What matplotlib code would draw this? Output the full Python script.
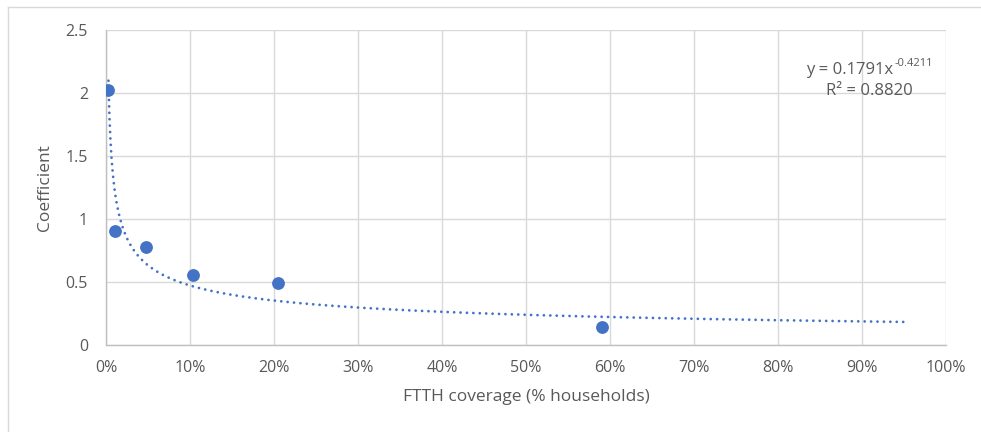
import numpy as np
import matplotlib.pyplot as plt
import matplotlib.transforms as mtransforms
from matplotlib.lines import Line2D
from matplotlib.ticker import PercentFormatter

plt.rcParams['font.family'] = ['Open Sans', 'DejaVu Sans']

# FTTH coverage (share of households) vs estimated coefficient
coverage = [0.0029, 0.011, 0.048, 0.104, 0.205, 0.591]
coefficient = [2.02, 0.905, 0.78, 0.555, 0.49, 0.14]

# power trendline y = a * x^b
trend_a = 0.1791
trend_b = -0.4211
trend_end = 0.95
r_squared = 0.8820

blue = '#4472C4'
grey_text = '#595959'
grid_col = '#D9D9D9'

fig = plt.figure(figsize=(9.81, 4.32), dpi=100)
ax = fig.add_axes([106 / 981, 1 - 345 / 432, 840 / 981, 315 / 432])

xs = np.linspace(min(coverage), trend_end, 800)
ax.plot(xs, trend_a * xs ** trend_b, color=blue, lw=2.0,
        linestyle=(0, (0.01, 2.3)), dash_capstyle='round', zorder=2)
ax.scatter(coverage, coefficient, s=85, color=blue, zorder=3, linewidths=0)

ax.set_xlim(0, 1)
ax.set_ylim(0, 2.5)
ax.set_xticks(np.arange(0, 1.01, 0.1))
ax.set_yticks([0, 0.5, 1, 1.5, 2, 2.5])
ax.set_yticklabels(['0', '0.5', '1', '1.5', '2', '2.5'])
ax.xaxis.set_major_formatter(PercentFormatter(1.0, decimals=0))

ax.grid(True, color=grid_col, lw=1)
ax.set_axisbelow(True)
for side in ['top', 'right']:
    ax.spines[side].set_visible(False)
for side in ['left', 'bottom']:
    ax.spines[side].set_color('#BFBFBF')
    ax.spines[side].set_linewidth(1)
ax.tick_params(length=0, labelsize=11.5, labelcolor=grey_text)
ax.tick_params(axis='x', pad=11)
ax.tick_params(axis='y', pad=13)

ax.set_xlabel('FTTH coverage (% households)', fontsize=12.5, color=grey_text, labelpad=9)
ax.set_ylabel('Coefficient', fontsize=12.5, color=grey_text, labelpad=9)

# trendline equation, exponent drawn as a raised smaller text
eq_x = 0.937
ax.text(eq_x, 2.18, f'y = {trend_a}x', fontsize=12, color=grey_text,
        ha='right', va='center')
raised = mtransforms.offset_copy(ax.transData, fig=fig, x=1, y=5, units='points')
ax.text(eq_x, 2.18, f'{trend_b}', fontsize=8, color=grey_text,
        ha='left', va='center', transform=raised)
ax.text(0.909, 2.015, f'R\u00b2 = {r_squared:.4f}', fontsize=12, color=grey_text,
        ha='center', va='center')

# chart area frame (top and left edges)
frame_col = '#D9D9D9'
fig.add_artist(Line2D([8 / 981, 1], [1 - 7 / 432, 1 - 7 / 432], color=frame_col, lw=1))
fig.add_artist(Line2D([8 / 981, 8 / 981], [0, 1 - 7 / 432], color=frame_col, lw=1))

fig.savefig('out.png', dpi=100)
